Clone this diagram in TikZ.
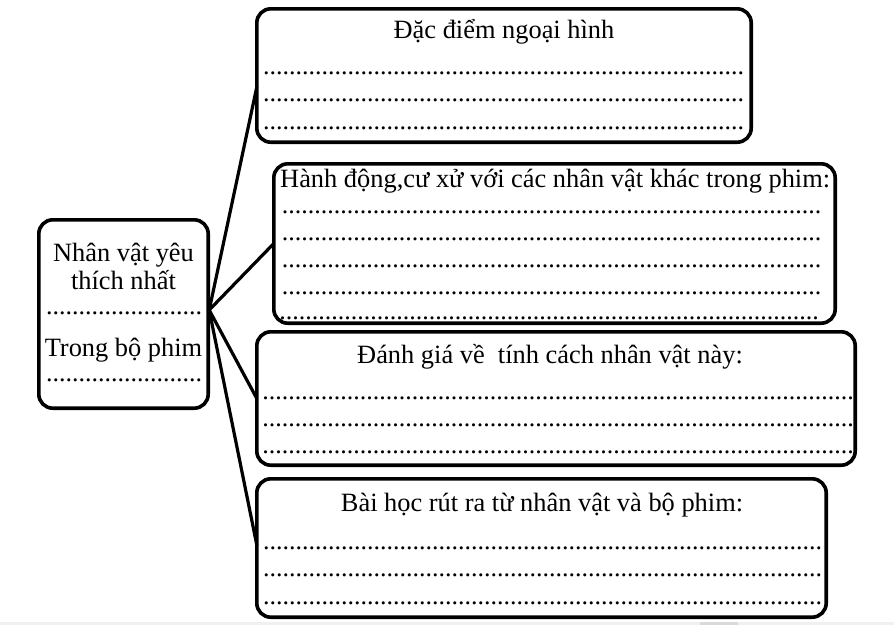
\documentclass[tikz,border=0pt]{standalone}
\usepackage{fontspec}
\setmainfont{Liberation Serif}
\usetikzlibrary{calc}
\newcommand\dotrow[1]{\hbox to #1pt{\cleaders\hbox{.}\hfill}}
\tikzset{
  frame/.style={draw, line width=3.6pt, rounded corners=14pt, inner sep=0pt, outer sep=0pt},
  txt/.style={inner sep=0pt, anchor=base, font=\fontsize{26.4}{30}\selectfont},
  dotline/.style={inner sep=0pt, anchor=base west, font=\fontsize{26}{30}\selectfont},
  link/.style={line width=3.2pt},
}
\begin{document}
\begin{tikzpicture}[x=1pt,y=-1pt]
\useasboundingbox (0,0) rectangle (894,625);
\fill[gray!12] (0,622) rectangle (894,625);
\fill[gray!30] (700,622) rectangle (738,625);

% boxes
\node[frame, minimum width=169.4pt, minimum height=188.4pt] (lb) at (123.5,314) {};
\node[frame, minimum width=494.4pt, minimum height=133.4pt] (b1) at (504,75.5) {};
\node[frame, minimum width=561.4pt, minimum height=159.4pt] (b2) at (554.5,243.5) {};
\node[frame, minimum width=598.4pt, minimum height=133.4pt] (b3) at (556,398.5) {};
\node[frame, minimum width=569.4pt, minimum height=138.4pt] (b4) at (541.5,548) {};

% connectors
\coordinate (hub) at ($(lb.east)+(1,-4)$);
\coordinate (e1) at ($(b1.west)+(0,11.5)$);
\coordinate (e4) at ($(b4.west)+(0,-3)$);
\draw[link] (hub) -- (e1);
\draw[link] (hub) -- (b2.west);
\draw[link] (hub) -- (b3.west);
\draw[link] (hub) -- (e4);

% left box text
\node[txt] (l1) at (123.5,261) {Nhân vật yêu};
\node[txt] (l2) at (123.5,289) {thích nhất};
\node[dotline] (l3) at (45,314.5) {\dotrow{158}};
\node[txt] (l4) at (123.5,356) {Trong bộ phim};
\node[dotline] (l5) at (45,381.5) {\dotrow{158}};

% box 1
\node[txt] (t1) at (504,38) {Đặc điểm ngoại hình};
\node[dotline] (d11) at (263,74.5) {\dotrow{481}};
\node[dotline] (d12) at (263,101.5) {\dotrow{481}};
\node[dotline] (d13) at (263,129.5) {\dotrow{481}};

% box 2
\node[txt, anchor=base west] (t2) at (280,187) {Hành động,cư xử với các nhân vật khác trong phim:};
\node[dotline] (d21) at (279,213.5) {\dotrow{545}};
\node[dotline] (d22) at (279,240.5) {\dotrow{545}};
\node[dotline] (d23) at (279,267.5) {\dotrow{545}};
\node[dotline] (d24) at (279,294.5) {\dotrow{545}};
\node[dotline] (d25) at (279,319.5) {\dotrow{540}};

% box 3
\node[txt] (t3) at (550,363) {Đánh giá về~ tính cách nhân vật này:};
\node[dotline] (d31) at (262,399) {\dotrow{592}};
\node[dotline] (d32) at (262,426) {\dotrow{592}};
\node[dotline] (d33) at (262,453.5) {\dotrow{592}};

% box 4
\node[txt] (t4) at (542,511) {Bài học rút ra từ nhân vật và bộ phim:};
\node[dotline] (d41) at (263,549) {\dotrow{559}};
\node[dotline] (d42) at (263,576) {\dotrow{559}};
\node[dotline] (d43) at (263,604) {\dotrow{559}};
\end{tikzpicture}
\end{document}
